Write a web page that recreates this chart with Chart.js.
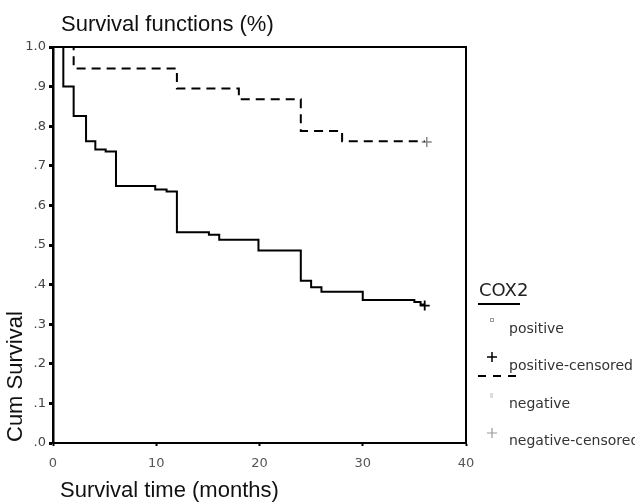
<!DOCTYPE html>
<html>
<head>
<meta charset="utf-8">
<script src="https://cdn.jsdelivr.net/npm/chart.js@4.4.0/dist/chart.umd.min.js"></script>
<style>
  html, body { margin: 0; padding: 0; background: #fff; }
  #wrap { width: 635px; height: 503px; }
</style>
</head>
<body>
<div id="wrap"><canvas id="survivalChart" width="635" height="503"></canvas></div>
<script>
// Kaplan-Meier steps (time in months, cumulative survival)
const positiveTimes = [0, 1, 2, 3.2, 4.1, 5.1, 6.1, 9.9, 11, 12, 15.1, 16.1, 19.9, 24, 25, 26, 30, 35, 35.6, 36];
const positiveSurv  = [1, 0.9, 0.826, 0.762, 0.741, 0.736, 0.649, 0.64, 0.635, 0.532, 0.526, 0.513, 0.486, 0.41, 0.393, 0.382, 0.361, 0.356, 0.35, 0.35];
const negativeTimes = [0, 2, 12, 18, 24, 28, 36];
const negativeSurv  = [1, 0.946, 0.895, 0.868, 0.788, 0.762, 0.762];

// censored observations
const positiveCensoredTimes = [36];
const positiveCensoredSurv  = [0.347];
const negativeCensoredTimes = [36.2];
const negativeCensoredSurv  = [0.76];

// axis ticks
const xTickValues = [0, 10, 20, 30, 40];
const yTickValues = [0, 0.1, 0.2, 0.3, 0.4, 0.5, 0.6, 0.7, 0.8, 0.9, 1.0];
const yTickLabels = ['.0', '.1', '.2', '.3', '.4', '.5', '.6', '.7', '.8', '.9', '1.0'];

const legendTitle = 'COX2';
const legendLabels = ['positive', 'positive-censored', 'negative', 'negative-censored'];

function toPoints(xs, ys) {
    return xs.map((x, i) => ({ x: x, y: ys[i] }));
}

// Titles, frame and legend drawn onto the canvas
const decorations = {
    id: 'decorations',
    afterDraw(chart) {
        const ctx = chart.ctx;
        const area = chart.chartArea;
        ctx.save();

        // top and right frame
        ctx.strokeStyle = '#000';
        ctx.lineWidth = 2;
        ctx.beginPath();
        ctx.moveTo(area.left, area.top);
        ctx.lineTo(area.right, area.top);
        ctx.lineTo(area.right, area.bottom);
        ctx.stroke();

        // titles
        ctx.fillStyle = '#111';
        ctx.font = '22px "Liberation Sans", Arial, sans-serif';
        ctx.textAlign = 'left';
        ctx.textBaseline = 'alphabetic';
        ctx.fillText('Survival functions (%)', 61, 31);
        ctx.fillText('Survival time (months)', 60, 497);

        ctx.save();
        ctx.translate(22, 442);
        ctx.rotate(-Math.PI / 2);
        ctx.fillText('Cum Survival', 0, 0);
        ctx.restore();

        // legend
        const lx = 478;
        ctx.fillStyle = '#222';
        ctx.font = '18px "DejaVu Sans", sans-serif';
        ctx.fillText(legendTitle, 479, 296);

        ctx.strokeStyle = '#000';
        ctx.lineWidth = 2;
        ctx.beginPath();
        ctx.moveTo(lx, 304);
        ctx.lineTo(lx + 42, 304);
        ctx.stroke();

        ctx.font = '14px "DejaVu Sans", sans-serif';
        ctx.fillStyle = '#333';
        ctx.fillText(legendLabels[0], 509, 333);
        ctx.fillText(legendLabels[1], 509, 370);
        ctx.fillText(legendLabels[2], 509, 408);
        ctx.fillText(legendLabels[3], 509, 445);

        // small marker for "positive"
        ctx.strokeStyle = '#999';
        ctx.lineWidth = 1;
        ctx.strokeRect(490.5, 318.5, 3, 3);

        // cross for positive-censored
        ctx.strokeStyle = '#000';
        ctx.lineWidth = 1.5;
        ctx.beginPath();
        ctx.moveTo(487, 357); ctx.lineTo(497, 357);
        ctx.moveTo(492, 352); ctx.lineTo(492, 362);
        ctx.stroke();

        // dashed line for negative
        ctx.lineWidth = 2;
        ctx.setLineDash([8, 7]);
        ctx.beginPath();
        ctx.moveTo(lx, 376);
        ctx.lineTo(lx + 44, 376);
        ctx.stroke();
        ctx.setLineDash([]);

        // faint marker for "negative"
        ctx.fillStyle = '#ddd';
        ctx.fillRect(490, 393, 3, 5);

        // grey cross for negative-censored
        ctx.strokeStyle = '#999';
        ctx.lineWidth = 1.2;
        ctx.beginPath();
        ctx.moveTo(487, 433); ctx.lineTo(497, 433);
        ctx.moveTo(492, 428); ctx.lineTo(492, 438);
        ctx.stroke();

        ctx.restore();
    }
};

const ctx = document.getElementById('survivalChart');
const survivalChart = new Chart(ctx, {
    type: 'scatter',
    data: {
        datasets: [
            {
                label: 'positive',
                data: toPoints(positiveTimes, positiveSurv),
                showLine: true,
                stepped: true,
                borderColor: '#000',
                borderWidth: 2,
                pointRadius: 0,
                fill: false
            },
            {
                label: 'negative',
                data: toPoints(negativeTimes, negativeSurv),
                showLine: true,
                stepped: true,
                borderColor: '#000',
                borderWidth: 2,
                borderDash: [9, 6],
                pointRadius: 0,
                fill: false
            },
            {
                label: 'positive-censored',
                data: toPoints(positiveCensoredTimes, positiveCensoredSurv),
                showLine: false,
                pointStyle: 'cross',
                pointRadius: 5,
                borderColor: '#000',
                borderWidth: 1.8
            },
            {
                label: 'negative-censored',
                data: toPoints(negativeCensoredTimes, negativeCensoredSurv),
                showLine: false,
                pointStyle: 'cross',
                pointRadius: 5,
                borderColor: '#888',
                borderWidth: 1.5
            }
        ]
    },
    options: {
        responsive: false,
        animation: false,
        clip: false,
        layout: {
            padding: { left: 0, top: 47, right: 169, bottom: 0 }
        },
        plugins: {
            legend: { display: false },
            title: { display: false },
            tooltip: { enabled: false }
        },
        scales: {
            x: {
                type: 'linear',
                min: 0,
                max: 40,
                afterFit: function(scale) { scale.height = 60; },
                afterBuildTicks: function(scale) {
                    scale.ticks = xTickValues.map(v => ({ value: v }));
                },
                border: { display: true, color: '#000', width: 2 },
                grid: {
                    display: true,
                    drawOnChartArea: false,
                    drawTicks: true,
                    tickLength: 3,
                    tickWidth: 2,
                    tickColor: '#000'
                },
                ticks: {
                    color: '#555',
                    padding: 10,
                    maxRotation: 0,
                    font: { family: '"DejaVu Sans", sans-serif', size: 13 }
                }
            },
            y: {
                type: 'linear',
                min: 0,
                max: 1,
                afterFit: function(scale) { scale.width = 53; },
                afterBuildTicks: function(scale) {
                    scale.ticks = yTickValues.map(v => ({ value: v }));
                },
                border: { display: true, color: '#000', width: 2.5 },
                grid: {
                    display: true,
                    drawOnChartArea: false,
                    drawTicks: true,
                    tickLength: 4,
                    tickWidth: 3,
                    tickColor: '#000'
                },
                ticks: {
                    color: '#444',
                    padding: 3,
                    font: { family: '"DejaVu Sans", sans-serif', size: 13 },
                    callback: function(value) {
                        const i = yTickValues.findIndex(v => Math.abs(v - value) < 1e-6);
                        return i >= 0 ? yTickLabels[i] : '';
                    }
                }
            }
        }
    },
    plugins: [decorations]
});
</script>
</body>
</html>
